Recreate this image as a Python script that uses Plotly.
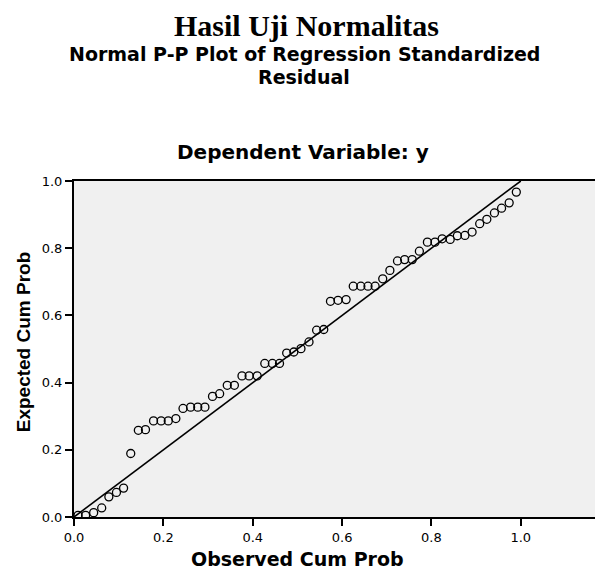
import plotly.graph_objects as go

observed_cum_prob = [0.009, 0.026, 0.044, 0.062, 0.078, 0.095, 0.111, 0.127, 0.144, 0.160,
                     0.178, 0.195, 0.211, 0.228, 0.244, 0.261, 0.277, 0.293, 0.310, 0.326,
                     0.343, 0.359, 0.376, 0.392, 0.410, 0.427, 0.444, 0.460, 0.476, 0.492,
                     0.508, 0.526, 0.543, 0.559, 0.574, 0.591, 0.609, 0.625, 0.642, 0.658,
                     0.674, 0.691, 0.707, 0.724, 0.740, 0.757, 0.773, 0.791, 0.808, 0.824,
                     0.842, 0.858, 0.875, 0.891, 0.908, 0.924, 0.941, 0.957, 0.974, 0.990]
expected_cum_prob = [0.005, 0.005, 0.013, 0.027, 0.060, 0.073, 0.086, 0.189, 0.258, 0.260,
                     0.286, 0.286, 0.286, 0.293, 0.323, 0.327, 0.327, 0.327, 0.359, 0.367,
                     0.392, 0.392, 0.420, 0.420, 0.420, 0.457, 0.457, 0.457, 0.488, 0.491,
                     0.501, 0.521, 0.556, 0.558, 0.642, 0.645, 0.647, 0.687, 0.687, 0.687,
                     0.687, 0.709, 0.734, 0.762, 0.766, 0.766, 0.791, 0.818, 0.818, 0.828,
                     0.826, 0.837, 0.838, 0.848, 0.873, 0.886, 0.905, 0.919, 0.935, 0.967]
ref_line = [0.0, 1.0]
tick_vals = [0.0, 0.2, 0.4, 0.6, 0.8, 1.0]
tick_text = ["0.0", "0.2", "0.4", "0.6", "0.8", "1.0"]

title_main = "Hasil Uji Normalitas"
title_sub_1 = "Normal P-P Plot of Regression Standardized"
title_sub_2 = "Residual"
title_dep = "Dependent Variable: y"
x_title = "Observed Cum Prob"
y_title = "Expected Cum Prob"

fig = go.Figure()
fig.add_trace(go.Scatter(x=ref_line, y=ref_line, mode="lines",
                         line=dict(color="black", width=1.6), showlegend=False,
                         hoverinfo="skip"))
fig.add_trace(go.Scatter(x=observed_cum_prob, y=expected_cum_prob, mode="markers",
                         marker=dict(symbol="circle-open", size=8, color="black",
                                     line=dict(width=1.3, color="black")),
                         showlegend=False))

# page has an 8px body margin, so the figure is 8px smaller than the window
W, H = 595, 561
L, R, T, B = 66, 0, 173, 52
ph = H - T - B
pw = W - L - R

def py(pix):
    return (H - B - pix) / ph

def px(pix):
    return (pix - L) / pw

sans = "Liberation Sans, Arial, sans-serif"
wide = "DejaVu Sans, Verdana, sans-serif"
axis_common = dict(showgrid=False, zeroline=False, showline=True, linecolor="black",
                   linewidth=2, ticks="outside", ticklen=7, tickwidth=1.5,
                   tickcolor="black", tickvals=tick_vals, ticktext=tick_text,
                   tickfont=dict(family=wide, size=13, color="black"))
fig.update_layout(
    width=W, height=H, margin=dict(l=L, r=R, t=T, b=B, pad=0),
    paper_bgcolor="white", plot_bgcolor="#f0f0f0",
    xaxis=dict(range=[0, 1.184], mirror=True, **axis_common),
    yaxis=dict(range=[0, 1.0], mirror=False, **axis_common),
    annotations=[
        dict(text="<b>" + title_main + "</b>", xref="paper", yref="paper",
             x=px(298), y=py(17), xanchor="center", yanchor="middle", showarrow=False,
             font=dict(family="Liberation Serif, Times New Roman, serif", size=30, color="black")),
        dict(text="<b>" + title_sub_1 + "</b>", xref="paper", yref="paper",
             x=px(296), y=py(46.5), xanchor="center", yanchor="middle", showarrow=False,
             font=dict(family=wide, size=19, color="black")),
        dict(text="<b>" + title_sub_2 + "</b>", xref="paper", yref="paper",
             x=px(296), y=py(69), xanchor="center", yanchor="middle", showarrow=False,
             font=dict(family=wide, size=19, color="black")),
        dict(text="<b>" + title_dep + "</b>", xref="paper", yref="paper",
             x=px(295), y=py(144), xanchor="center", yanchor="middle", showarrow=False,
             font=dict(family=wide, size=20, color="black")),
        dict(text="<b>" + x_title + "</b>", xref="x", yref="paper",
             x=0.5, y=py(551), xanchor="center", yanchor="middle", showarrow=False,
             font=dict(family=wide, size=19, color="black")),
        dict(text="<b>" + y_title + "</b>", xref="paper", yref="y",
             x=px(15), y=0.52, xanchor="center", yanchor="middle", showarrow=False,
             textangle=-90, font=dict(family=sans, size=19, color="black")),
    ],
)

fig.write_html("out.html")
